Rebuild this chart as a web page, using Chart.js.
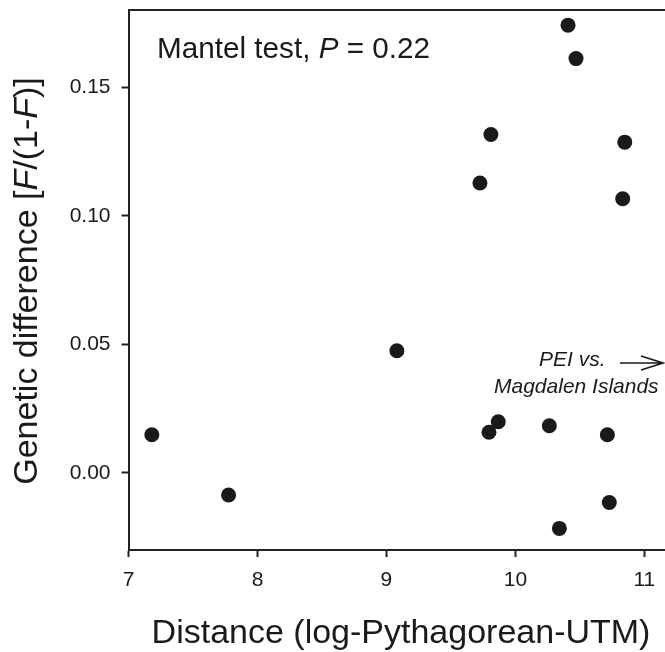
<!DOCTYPE html>
<html>
<head>
<meta charset="utf-8">
<script src="https://cdn.jsdelivr.net/npm/chart.js@4.4.1/dist/chart.umd.min.js"></script>
<style>
  html, body { margin: 0; padding: 0; background: #ffffff; }
  #wrap { position: relative; width: 665px; height: 652px; overflow: hidden; }
  canvas { display: block; }
</style>
</head>
<body>
<div id="wrap"><canvas id="c" width="665" height="652"></canvas></div>
<script>
// ---- data ----
const distance = [7.181, 7.776, 9.081, 9.725, 9.810, 9.795, 9.867, 10.263, 10.341, 10.408, 10.470, 10.713, 10.728, 10.848, 10.832];
const geneticDiff = [0.0148, -0.0086, 0.0475, 0.1127, 0.1316, 0.0158, 0.0199, 0.0183, -0.0216, 0.1741, 0.1611, 0.0148, -0.0115, 0.1286, 0.1066];
const xTicks = [7, 8, 9, 10, 11];
const yTicks = [0.00, 0.05, 0.10, 0.15];
const xTitle = "Distance (log-Pythagorean-UTM)";
const yTitleParts = [["Genetic difference [", false], ["F", true], ["/(1-", false], ["F", true], [")]", false]];
const mantelParts = [["Mantel test, ", false], ["P", true], [" = 0.22", false]];
const noteLines = ["PEI vs.", "Magdalen Islands"];

const FONT = "'Liberation Sans', Arial, Helvetica, sans-serif";
const INK = "#1a1a1a";

function drawParts(ctx, parts, size, x, y, align) {
  let total = 0;
  const widths = parts.map(([t, it]) => {
    ctx.font = (it ? "italic " : "") + size + "px " + FONT;
    const w = ctx.measureText(t).width;
    total += w;
    return w;
  });
  let cx = align === "center" ? x - total / 2 : x;
  ctx.textAlign = "left";
  parts.forEach(([t, it], i) => {
    ctx.font = (it ? "italic " : "") + size + "px " + FONT;
    ctx.fillText(t, cx, y);
    cx += widths[i];
  });
}

const annotations = {
  id: "annotations",
  afterDraw(chart) {
    const ctx = chart.ctx;
    ctx.save();
    ctx.fillStyle = INK;
    ctx.textBaseline = "alphabetic";
    // x title
    drawParts(ctx, [[xTitle, false]], 34, 401, 643, "center");
    // y title (rotated)
    ctx.save();
    ctx.translate(37, 281);
    ctx.rotate(-Math.PI / 2);
    drawParts(ctx, yTitleParts, 34, 0, 0, "center");
    ctx.restore();
    // Mantel annotation
    drawParts(ctx, mantelParts, 29.7, 157, 58, "left");
    // PEI note
    drawParts(ctx, [[noteLines[0], true]], 21, 539, 366, "left");
    drawParts(ctx, [[noteLines[1], true]], 21, 494, 393, "left");
    // arrow
    ctx.strokeStyle = INK;
    ctx.lineWidth = 1.6;
    ctx.beginPath();
    ctx.moveTo(620, 363);
    ctx.lineTo(663, 363);
    ctx.moveTo(641, 356);
    ctx.lineTo(663, 363);
    ctx.lineTo(641, 370);
    ctx.stroke();
    ctx.restore();
  }
};

function noPad(s) { s.paddingTop = 0; s.paddingBottom = 0; s.paddingLeft = 0; s.paddingRight = 0; }

const points = distance.map((d, i) => ({ x: d, y: geneticDiff[i] }));

new Chart(document.getElementById("c"), {
  type: "scatter",
  data: {
    datasets: [{
      data: points,
      backgroundColor: INK,
      borderColor: INK,
      borderWidth: 0,
      pointRadius: 7.5,
      pointHoverRadius: 7.5
    }]
  },
  options: {
    responsive: false,
    animation: false,
    devicePixelRatio: 1,
    layout: { padding: 0, autoPadding: false },
    plugins: { legend: { display: false }, tooltip: { enabled: false }, title: { display: false } },
    scales: {
      x: {
        type: "linear",
        position: "bottom",
        min: 7,
        max: 11.16,
        afterBuildTicks: s => { s.ticks = xTicks.map(v => ({ value: v })); },
        afterFit: s => { s.height = 102; noPad(s); },
        border: { display: true, color: "#222", width: 2 },
        grid: { display: true, drawOnChartArea: false, drawTicks: true, tickLength: 7, tickWidth: 2, tickColor: "#222" },
        ticks: { color: INK, font: { family: FONT, size: 21 }, padding: 11, maxRotation: 0, callback: v => String(v) }
      },
      x2: {
        type: "linear",
        position: "top",
        min: 7,
        max: 11.16,
        afterFit: s => { s.height = 10; noPad(s); },
        border: { display: true, color: "#222", width: 2 },
        grid: { display: false, drawTicks: false },
        ticks: { display: false }
      },
      y: {
        type: "linear",
        position: "left",
        min: -0.03,
        max: 0.18,
        afterBuildTicks: s => { s.ticks = yTicks.map(v => ({ value: v })); },
        afterFit: s => { s.width = 128.5; noPad(s); },
        border: { display: true, color: "#222", width: 2 },
        grid: { display: true, drawOnChartArea: false, drawTicks: true, tickLength: 7, tickWidth: 2, tickColor: "#222" },
        ticks: { color: INK, font: { family: FONT, size: 21 }, padding: 11, callback: v => v.toFixed(2) }
      }
    }
  },
  plugins: [annotations]
});
</script>
</body>
</html>
